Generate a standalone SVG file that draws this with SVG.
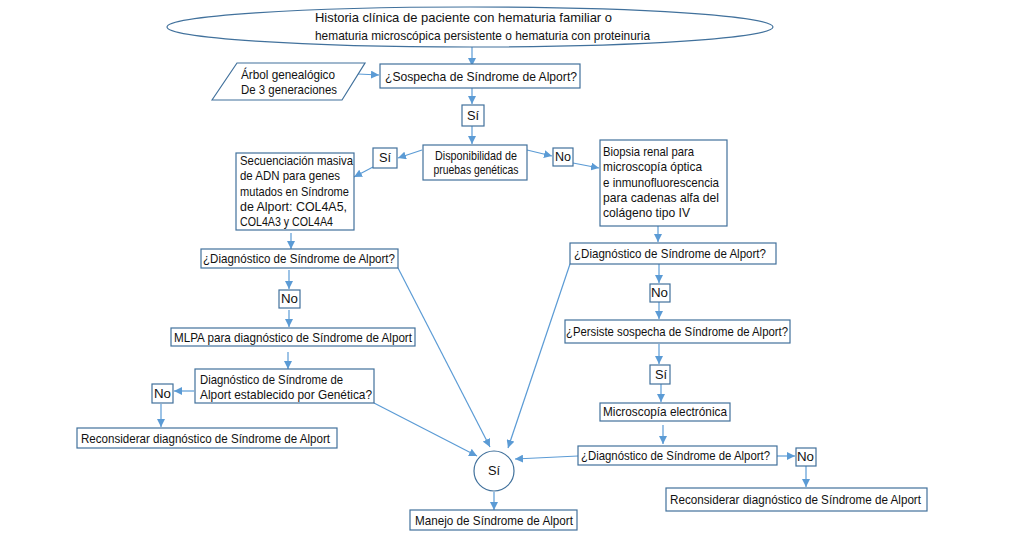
<svg xmlns="http://www.w3.org/2000/svg" width="1024" height="540" viewBox="0 0 1024 540">
<defs>
<marker id="ah" viewBox="0 0 10 10" refX="10" refY="5" markerWidth="8" markerHeight="8" markerUnits="userSpaceOnUse" orient="auto">
<path d="M0,0 L10,5 L0,10 z" fill="#5B9BD5"/>
</marker>
<style>
.b{fill:#fff;stroke:#41719C;stroke-width:1.2}
.t{font-family:"Liberation Sans",Arial,sans-serif;font-size:12.8px;fill:#111}
.c{fill:none;stroke:#5B9BD5;stroke-width:1.2;marker-end:url(#ah)}
</style>
</defs>
<rect width="1024" height="540" fill="#fff"/>

<g id="connectors">
<path class="c" d="M472,47 L472,66"/>
<path class="c" d="M358,74 L379,75"/>
<path class="c" d="M472,88 L472,104"/>
<path class="c" d="M472,126 L472,144"/>
<path class="c" d="M422,150 L398,158"/>
<path class="c" d="M373,167 L354,177"/>
<path class="c" d="M527,150 L552,156"/>
<path class="c" d="M573,163 L599,168"/>
<path class="c" d="M658,226 L658,242"/>
<path class="c" d="M659,264 L659,283"/>
<path class="c" d="M659,302 L659,319"/>
<path class="c" d="M659,344 L659,364"/>
<path class="c" d="M661,384 L661,402"/>
<path class="c" d="M663,425 L663,444"/>
<path class="c" d="M777,456 L795,456"/>
<path class="c" d="M806,466 L806,487"/>
<path class="c" d="M291,233 L291,249"/>
<path class="c" d="M289,270 L289,289"/>
<path class="c" d="M289,310 L289,327"/>
<path class="c" d="M288,352 L288,369"/>
<path class="c" d="M194,391 L174,391"/>
<path class="c" d="M161,404 L161,427"/>
<path class="c" d="M398,268 L490,447"/>
<path class="c" d="M374,403 L477,456"/>
<path class="c" d="M570,264 L508,448"/>
<path class="c" d="M578,456 L515,459"/>
<path class="c" d="M494,492 L494,510"/>
</g>

<g id="n_historia">
<ellipse class="b" cx="470" cy="27" rx="303" ry="20"/>
<text class="t" x="315" y="22" textLength="297" lengthAdjust="spacingAndGlyphs">Historia clínica de paciente con hematuria familiar o</text>
<text class="t" x="315" y="40" textLength="335" lengthAdjust="spacingAndGlyphs">hematuria microscópica persistente o hematuria con proteinuria</text>
</g>

<g id="n_arbol">
<polygon class="b" points="212,100 237,63 365,63 342,100"/>
<text class="t" x="241" y="79" textLength="94" lengthAdjust="spacingAndGlyphs">Árbol genealógico</text>
<text class="t" x="241" y="94" textLength="96" lengthAdjust="spacingAndGlyphs">De 3 generaciones</text>
</g>

<g id="n_sospecha">
<rect class="b" x="380" y="64" width="200" height="24"/>
<text class="t" x="385" y="81" textLength="192" lengthAdjust="spacingAndGlyphs">¿Sospecha de Síndrome de Alport?</text>
</g>

<g id="n_si1">
<rect class="b" x="462" y="105" width="22" height="21"/>
<text class="t" x="467" y="120">Sí</text>
</g>

<g id="n_disp">
<rect class="b" x="423" y="145" width="104" height="35"/>
<text class="t" x="476" y="160" text-anchor="middle" textLength="82" lengthAdjust="spacingAndGlyphs">Disponibilidad de</text>
<text class="t" x="476" y="174" text-anchor="middle" textLength="85" lengthAdjust="spacingAndGlyphs">pruebas genéticas</text>
</g>

<g id="n_si2">
<rect class="b" x="373" y="148" width="24" height="20"/>
<text class="t" x="379" y="162">Sí</text>
</g>

<g id="n_no1">
<rect class="b" x="553" y="148" width="20" height="18"/>
<text class="t" x="555" y="161" textLength="16" lengthAdjust="spacingAndGlyphs">No</text>
</g>

<g id="n_secuenciacion">
<rect class="b" x="236" y="153" width="118" height="77"/>
<text class="t" x="240" y="165" textLength="113" lengthAdjust="spacingAndGlyphs">Secuenciación masiva</text>
<text class="t" x="240" y="180" textLength="100" lengthAdjust="spacingAndGlyphs">de ADN para genes</text>
<text class="t" x="240" y="196" textLength="109" lengthAdjust="spacingAndGlyphs">mutados  en Síndrome</text>
<text class="t" x="240" y="211" textLength="107" lengthAdjust="spacingAndGlyphs">de Alport:  COL4A5,</text>
<text class="t" x="240" y="226" textLength="93" lengthAdjust="spacingAndGlyphs">COL4A3 y COL4A4</text>
</g>

<g id="n_biopsia">
<rect class="b" x="600" y="140" width="127" height="86"/>
<text class="t" x="603" y="156" textLength="91" lengthAdjust="spacingAndGlyphs">Biopsia renal para</text>
<text class="t" x="603" y="171" textLength="99" lengthAdjust="spacingAndGlyphs">microscopía óptica</text>
<text class="t" x="603" y="187" textLength="116" lengthAdjust="spacingAndGlyphs">e inmunofluorescencia</text>
<text class="t" x="603" y="202" textLength="116" lengthAdjust="spacingAndGlyphs">para cadenas alfa  del</text>
<text class="t" x="603" y="217" textLength="87" lengthAdjust="spacingAndGlyphs">colágeno tipo  IV</text>
</g>

<g id="n_diag_r1">
<rect class="b" x="570" y="243" width="206" height="21"/>
<text class="t" x="574" y="258" textLength="192" lengthAdjust="spacingAndGlyphs">¿Diagnóstico de Síndrome de Alport?</text>
</g>

<g id="n_no_r1">
<rect class="b" x="650" y="284" width="20" height="18"/>
<text class="t" x="651" y="297" textLength="17" lengthAdjust="spacingAndGlyphs">No</text>
</g>

<g id="n_persiste">
<rect class="b" x="565" y="320" width="225" height="23"/>
<text class="t" x="566" y="336" textLength="222" lengthAdjust="spacingAndGlyphs">¿Persiste sospecha de Síndrome de Alport?</text>
</g>

<g id="n_si_r">
<rect class="b" x="650" y="365" width="20" height="19"/>
<text class="t" x="655" y="379">Sí</text>
</g>

<g id="n_microscopia">
<rect class="b" x="600" y="403" width="130" height="18"/>
<text class="t" x="603" y="416" textLength="124" lengthAdjust="spacingAndGlyphs">Microscopía electrónica</text>
</g>

<g id="n_diag_r2">
<rect class="b" x="578" y="446" width="199" height="19"/>
<text class="t" x="581" y="460" textLength="189" lengthAdjust="spacingAndGlyphs">¿Diagnóstico de Síndrome de Alport?</text>
</g>

<g id="n_no_r2">
<rect class="b" x="796" y="448" width="20" height="18"/>
<text class="t" x="797" y="461" textLength="17" lengthAdjust="spacingAndGlyphs">No</text>
</g>

<g id="n_recon_r">
<rect class="b" x="666" y="488" width="261" height="23"/>
<text class="t" x="670" y="504" textLength="251" lengthAdjust="spacingAndGlyphs">Reconsiderar diagnóstico de Síndrome de Alport</text>
</g>

<g id="n_diag_l1">
<rect class="b" x="201" y="249" width="197" height="19"/>
<text class="t" x="203" y="263" textLength="192" lengthAdjust="spacingAndGlyphs">¿Diagnóstico de Síndrome de Alport?</text>
</g>

<g id="n_no_l1">
<rect class="b" x="279" y="290" width="21" height="18"/>
<text class="t" x="281" y="303" textLength="17" lengthAdjust="spacingAndGlyphs">No</text>
</g>

<g id="n_mlpa">
<rect class="b" x="171" y="328" width="244" height="18"/>
<text class="t" x="174" y="342" textLength="238" lengthAdjust="spacingAndGlyphs">MLPA para diagnóstico de Síndrome de Alport</text>
</g>

<g id="n_genetica">
<rect class="b" x="195" y="369" width="179" height="34"/>
<text class="t" x="200" y="384" textLength="143" lengthAdjust="spacingAndGlyphs">Diagnóstico de Síndrome de</text>
<text class="t" x="200" y="399" textLength="172" lengthAdjust="spacingAndGlyphs">Alport establecido por Genética?</text>
</g>

<g id="n_no_l2">
<rect class="b" x="152" y="384" width="21" height="19"/>
<text class="t" x="154" y="398" textLength="17" lengthAdjust="spacingAndGlyphs">No</text>
</g>

<g id="n_recon_l">
<rect class="b" x="77" y="428" width="260" height="20"/>
<text class="t" x="81" y="443" textLength="249" lengthAdjust="spacingAndGlyphs">Reconsiderar diagnóstico de Síndrome de Alport</text>
</g>

<g id="n_si_final">
<circle class="b" cx="494" cy="471" r="20"/>
<text class="t" x="494" y="475" text-anchor="middle">Sí</text>
</g>

<g id="n_manejo">
<rect class="b" x="410" y="510" width="167" height="20"/>
<text class="t" x="415" y="525" textLength="158" lengthAdjust="spacingAndGlyphs">Manejo de Síndrome de Alport</text>
</g>
</svg>
